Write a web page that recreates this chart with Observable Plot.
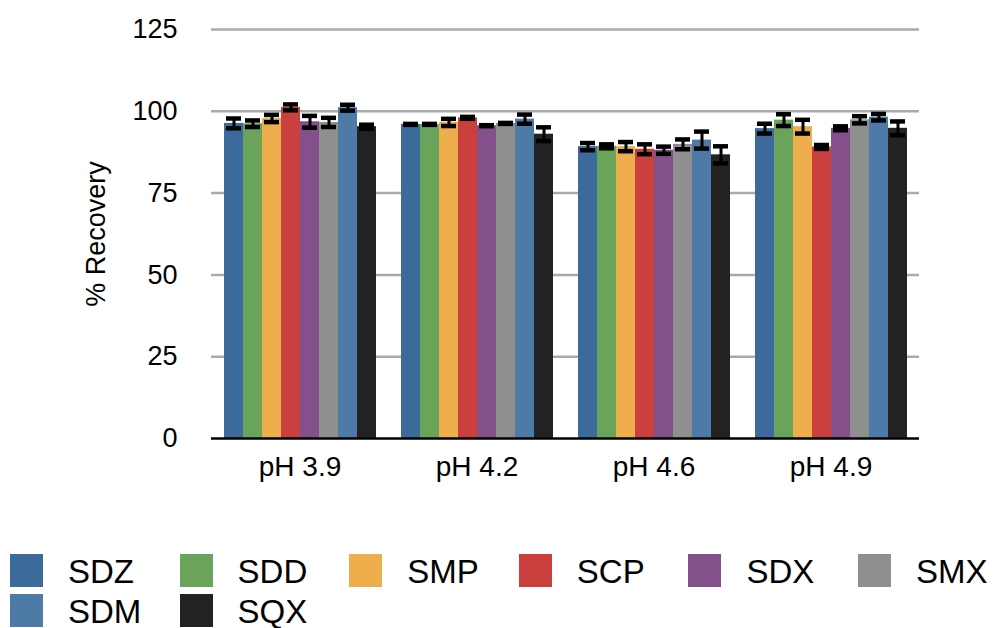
<!DOCTYPE html>
<html>
<head>
<meta charset="utf-8">
<script src="https://cdn.jsdelivr.net/npm/d3@7"></script>
<script src="https://cdn.jsdelivr.net/npm/@observablehq/plot@0.6"></script>
<style>
  body { margin: 0; background: #fff; }
  #wrap { position: relative; width: 996px; height: 628px; overflow: hidden; font-family: "Liberation Sans", Arial, Helvetica, sans-serif; }
  #legend { position: absolute; left: 0; top: 0; width: 996px; height: 628px; pointer-events: none; }
  .sw { position: absolute; width: 33px; height: 33px; }
  .lt { position: absolute; font-size: 33px; line-height: 30px; height: 30px; color: #000; white-space: nowrap; }
</style>
</head>
<body>
<div id="wrap"><div id="chart"></div><div id="legend"></div></div>
<script>
const groups = ["pH 3.9", "pH 4.2", "pH 4.6", "pH 4.9"];
const compounds = ["SDZ", "SDD", "SMP", "SCP", "SDX", "SMX", "SDM", "SQX"];
const colors = ["#3b6a9b", "#6aa35a", "#edae4b", "#cb403e", "#84508b", "#8e8f8e", "#4e7aa8", "#222222"];
const yTicks = [0, 25, 50, 75, 100, 125];

const val39 = [96.3, 96.2, 97.8, 101.2, 96.8, 96.6, 101.1, 95.3];
const err39 = [1.5, 1.0, 1.1, 0.9, 1.8, 1.4, 0.9, 0.6];
const val42 = [96.0, 96.0, 96.6, 98.0, 95.6, 96.3, 97.6, 93.0];
const err42 = [0.15, 0.15, 1.1, 0.3, 0.15, 0.15, 1.4, 2.1];
const val46 = [89.2, 89.3, 89.2, 88.4, 88.1, 89.9, 91.2, 86.7];
const err46 = [1.1, 0.6, 1.4, 1.5, 1.1, 1.5, 2.6, 2.6];
const val49 = [94.7, 97.3, 95.3, 89.1, 94.8, 97.4, 98.2, 94.8];
const err49 = [1.5, 1.8, 2.1, 0.6, 0.6, 1.1, 1.0, 2.1];

const values = [val39, val42, val46, val49];
const errors = [err39, err42, err46, err49];
const data = [];
groups.forEach((g, gi) => compounds.forEach((c, ci) => {
  data.push({group: g, compound: c, value: values[gi][ci], err: errors[gi][ci]});
}));

const font = "'Liberation Sans', Arial, Helvetica, sans-serif";
const chart = Plot.plot({
  width: 996,
  height: 500,
  marginLeft: 210,
  marginRight: 76,
  marginTop: 29,
  marginBottom: 62,
  style: {fontFamily: font, color: "#000", background: "#fff", overflow: "visible"},
  fx: {domain: groups, padding: 0, label: null},
  x: {domain: compounds, paddingInner: 0, paddingOuter: 0.61, axis: null},
  y: {domain: [0, 125]},
  color: {domain: compounds, range: colors},
  marks: [
    Plot.ruleY(yTicks.filter(t => t > 0), {stroke: "#aaaaaa", strokeWidth: 2.5}),
    Plot.barY(data, {fx: "group", x: "compound", y: "value", fill: "compound"}),
    Plot.ruleX(data, {fx: "group", x: "compound", y1: d => d.value - d.err, y2: d => d.value + d.err, stroke: "#000", strokeWidth: 3}),
    Plot.tickY(data, {fx: "group", x: "compound", y: d => d.value - d.err, stroke: "#000", strokeWidth: 4.5, insetLeft: 2, insetRight: 2}),
    Plot.tickY(data, {fx: "group", x: "compound", y: d => d.value + d.err, stroke: "#000", strokeWidth: 4.5, insetLeft: 2, insetRight: 2}),
    Plot.ruleY([0], {stroke: "#000", strokeWidth: 2.5}),
    Plot.axisY({ticks: yTicks, tickSize: 0, tickPadding: 34, fontSize: 27, label: "% Recovery", labelAnchor: "center", labelArrow: "none", labelOffset: 126}),
    Plot.axisFx({anchor: "bottom", tickSize: 0, tickPadding: 18, fontSize: 28, label: null})
  ]
});
document.getElementById("chart").appendChild(chart);

const legend = document.getElementById("legend");
compounds.forEach((c, i) => {
  const row = Math.floor(i / 6), col = i % 6;
  const x = 10 + col * 169.6;
  const y = 554 + row * 40;
  const sw = document.createElement("div");
  sw.className = "sw";
  sw.style.left = x + "px"; sw.style.top = y + "px"; sw.style.background = colors[i];
  legend.appendChild(sw);
  const t = document.createElement("div");
  t.className = "lt";
  t.style.left = (x + 58) + "px"; t.style.top = (y + 2.5) + "px";
  t.textContent = c;
  legend.appendChild(t);
});
</script>
</body>
</html>
